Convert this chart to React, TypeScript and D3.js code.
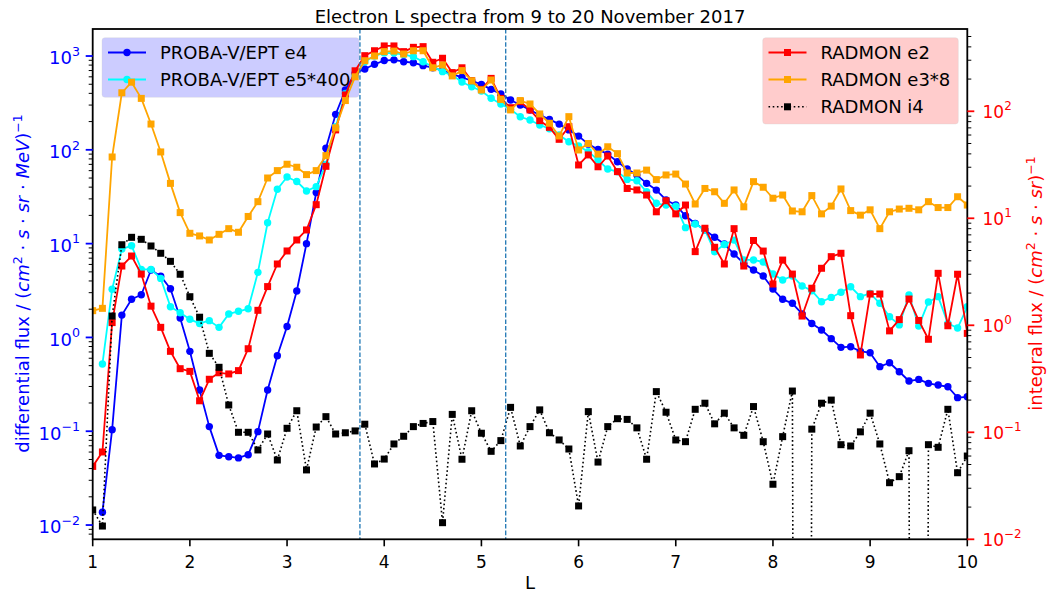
import React from 'react';
import * as d3 from 'd3';

// L-shell grid of the spectra
const L = [
  1.0, 1.1, 1.2, 1.3, 1.4, 1.5, 1.6, 1.7, 1.8, 1.9,
  2.0, 2.1, 2.2, 2.3, 2.4, 2.5, 2.6, 2.7, 2.8, 2.9,
  3.0, 3.1, 3.2, 3.3, 3.4, 3.5, 3.6, 3.7, 3.8, 3.9,
  4.0, 4.1, 4.2, 4.3, 4.4, 4.5, 4.6, 4.7, 4.8, 4.9,
  5.0, 5.1, 5.2, 5.3, 5.4, 5.5, 5.6, 5.7, 5.8, 5.9,
  6.0, 6.1, 6.2, 6.3, 6.4, 6.5, 6.6, 6.7, 6.8, 6.9,
  7.0, 7.1, 7.2, 7.3, 7.4, 7.5, 7.6, 7.7, 7.8, 7.9,
  8.0, 8.1, 8.2, 8.3, 8.4, 8.5, 8.6, 8.7, 8.8, 8.9,
  9.0, 9.1, 9.2, 9.3, 9.4, 9.5, 9.6, 9.7, 9.8, 9.9,
  10.0,
];

// PROBA-V/EPT differential flux (left axis)
const eptE4: (number | null)[] = [
  null, 0.0137, 0.104, 1.73, 2.55, 2.85, 5.23, 4.5, 3.3, 1.61,
  0.711, 0.275, 0.112, 0.0553, 0.0535, 0.052, 0.0562, 0.099, 0.275, 0.638,
  1.31, 3.13, 10, 35, 104, 239, 434, 653, 727, 816,
  895, 910, 869, 849, 789, 750, 697, 642, 593, 545,
  499, 441, 394, 340, 300, 266, 235, 211, 188, 163,
  140, 115, 101, 90, 74.7, 62.4, 53.8, 43.9, 37.2, 29.2,
  25.8, 19.8, 16.4, 14, 11.7, 9.9, 7.75, 6.17, 5.23, 4.52,
  3.28, 2.55, 2.31, 1.78, 1.41, 1.2, 0.97, 0.784, 0.796, 0.711,
  0.687, 0.488, 0.537, 0.431, 0.343, 0.357, 0.324, 0.311, 0.298, 0.228,
  0.233,
];

const eptE5x400: (number | null)[] = [
  null, 0.52, 3.26, 8.75, 9.5, 5.32, 5.32, 4.26, 2.12, 1.83,
  1.56, 1.41, 1.51, 1.28, 1.78, 1.9, 2.02, 4.94, 16.7, 38,
  51.3, 46, 36.4, 40.5, 70, 176, 400, 612, 870, 1000,
  1080, 1075, 1035, 984, 870, 769, 681, 622, 528, 471,
  424, 354, 308, 270, 225, 208, 184, 168, 144, 122,
  110, 95.6, 77.8, 62.4, 58.4, 48.4, 46.8, 35.7, 26.9, 25.8,
  25.1, 14.8, 16.2, 14, 8.2, 9.8, 10.9, 6.7, 6.7, 6.37,
  4.74, 4.1, 4.52, 3.53, 3.15, 2.4, 2.67, 3.03, 3.47, 2.72,
  2.95, 2.31, 1.66, 1.36, 2.83, 1.32, 2.39, 2.72, 1.41, 1.26,
  2.12,
];

// RADMON integral flux (right axis)
const radmonE2: (number | null)[] = [
  0.048, 0.0655, 1.06, 3.58, 4.44, 3.01, 1.51, 0.957, 0.571, 0.393,
  0.371, 0.197, 0.313, 0.36, 0.351, 0.377, 0.604, 1.38, 2.3, 3.74,
  4.95, 6.27, 7.78, 13.4, 30.6, 67, 142, 239, 331, 368,
  408, 408, 361, 396, 402, 287, 313, 230, 255, 193,
  160, 203, 132, 108, 123, 103, 81.7, 70.8, 54.7, 71.8,
  31.5, 39.1, 30.3, 38.2, 27.3, 19, 18.4, 16.5, 11.5, 14.6,
  11, 13.3, 4.88, 8.07, 5.36, 3.74, 8, 3.58, 6.2, 4.94,
  2.43, 4.07, 3.01, 1.22, 2.22, 3.41, 4.38, 4.71, 1.23, 0.528,
  1.96, 1.96, 0.887, 1.13, 1.76, 1.11, 0.74, 3.06, 0.99, 3.0,
  0.84,
];

const radmonE3x8: (number | null)[] = [
  1.37, 1.44, 37.4, 149, 187, 132, 76, 41.7, 21.2, 11.3,
  7.24, 6.84, 6.27, 7.08, 8.0, 7.4, 10.4, 14.3, 23.8, 27.9,
  32, 30, 25.6, 27.9, 38.5, 70, 126, 210, 297, 329,
  361, 365, 343, 368, 368, 255, 271, 214, 240, 193,
  158, 196, 129, 103, 126, 117, 94.4, 77.3, 58.8, 89.1,
  43.5, 50, 39.8, 46.6, 40.2, 26.5, 26.5, 28.2, 23, 25.4,
  25.9, 20.9, 13.6, 19, 17.7, 13.8, 18.4, 12.8, 22, 19.5,
  15.4, 16.5, 11.7, 11.5, 16.3, 11, 13, 18.8, 11.8, 10.7,
  12, 8, 11.5, 12.2, 12.4, 12, 14.3, 12.6, 12.6, 15.9,
  13.3,
];

const radmonI4: (number | null)[] = [
  0.0188, 0.0133, 1.22, 5.66, 6.64, 6.36, 5.51, 4.71, 3.96, 3.0,
  1.85, 1.19, 0.547, 0.405, 0.18, 0.1, 0.1, 0.0684, 0.0964, 0.0551,
  0.109, 0.159, 0.0445, 0.112, 0.14, 0.0964, 0.099, 0.103, 0.119, 0.0506,
  0.0562, 0.0778, 0.0918, 0.113, 0.121, 0.126, 0.0143, 0.147, 0.056, 0.159,
  0.098, 0.0664, 0.0836, 0.171, 0.0745, 0.113, 0.162, 0.099, 0.0848, 0.0698,
  0.0205, 0.156, 0.0527, 0.113, 0.134, 0.132, 0.11, 0.056, 0.24, 0.154,
  0.0848, 0.0817, 0.164, 0.187, 0.12, 0.151, 0.11, 0.0937, 0.174, 0.0817,
  0.0327, 0.0911, 0.243, 0, 0.107, 0.187, 0.2, 0.0766, 0.0745, 0.101,
  0.151, 0.0778, 0.0338, 0.0385, 0.0673, 0, 0.0766, 0.0724, 0.164, 0.0419,
  0.06,
];

// Dashed vertical reference lines
const markerL = [3.75, 5.25];

const xTicks = [1, 2, 3, 4, 5, 6, 7, 8, 9, 10];
const leftExps = [-2, -1, 0, 1, 2, 3];
const rightExps = [-2, -1, 0, 1, 2];

const W = 1050;
const H = 595;
const P = { left: 92.7, right: 967.3, top: 29, bottom: 539.3 };
const FONT = "'DejaVu Sans', sans-serif";

const x = d3.scaleLinear().domain([1, 10]).range([P.left, P.right]);
const yL = d3.scaleLog().domain([Math.pow(10, -2.152), Math.pow(10, 3.288)]).range([P.bottom, P.top]);
const yR = d3.scaleLog().domain([0.01, Math.pow(10, 2.769)]).range([P.bottom, P.top]);

type Pt = { l: number; v: number };

function points(vals: (number | null)[]): (Pt | null)[] {
  return vals.map((v, i) => (v === null ? null : { l: L[i], v: v <= 0 ? 1e-30 : v }));
}

function minorTicks(scale: d3.ScaleLogarithmic<number, number>) {
  const [lo, hi] = scale.domain();
  const out: number[] = [];
  for (let e = -4; e <= 4; e++) {
    for (let k = 2; k <= 9; k++) {
      const v = k * Math.pow(10, e);
      if (v >= lo && v <= hi) out.push(v);
    }
  }
  return out;
}

function Series({ vals, y, color, marker, dotted }: {
  vals: (number | null)[];
  y: d3.ScaleLogarithmic<number, number>;
  color: string;
  marker: 'circle' | 'square';
  dotted?: boolean;
}) {
  const pts = points(vals);
  const line = d3.line<Pt | null>()
    .defined((d) => d !== null)
    .x((d) => x((d as Pt).l))
    .y((d) => y((d as Pt).v));
  const path = line(pts) || '';
  return (
    <g clipPath="url(#plotClip)">
      <path d={path} fill="none" stroke={color} strokeWidth={dotted ? 1.6 : 1.8}
        strokeDasharray={dotted ? '1.6 2.6' : undefined} strokeLinejoin="round" />
      {pts.map((d, i) => {
        if (!d || d.v < 1e-20) return null;
        const cx = x(d.l);
        const cy = y(d.v);
        return marker === 'circle'
          ? <circle key={i} cx={cx} cy={cy} r={3.7} fill={color} />
          : <rect key={i} x={cx - 3.5} y={cy - 3.5} width={7} height={7} fill={color} />;
      })}
    </g>
  );
}

function Pow({ xPos, yPos, exp, anchor, color, size }: {
  xPos: number; yPos: number; exp: number; anchor: 'start' | 'end'; color: string; size: number;
}) {
  const e = exp < 0 ? `\u2212${-exp}` : `${exp}`;
  return (
    <text x={xPos} y={yPos} textAnchor={anchor} fill={color} fontSize={size} fontFamily={FONT}>
      <tspan>10</tspan>
      <tspan dy={-size * 0.47} fontSize={size * 0.7}>{e}</tspan>
    </text>
  );
}

function LegendRow({ x0, yMid, color, marker, dotted, label }: {
  x0: number; yMid: number; color: string; marker: 'circle' | 'square'; dotted?: boolean; label: string;
}) {
  const x1 = x0 + 38;
  const xm = (x0 + x1) / 2;
  return (
    <g>
      <line x1={x0} x2={x1} y1={yMid} y2={yMid} stroke={color} strokeWidth={dotted ? 1.6 : 1.8}
        strokeDasharray={dotted ? '1.6 2.6' : undefined} />
      {marker === 'circle'
        ? <circle cx={xm} cy={yMid} r={3.7} fill={color} />
        : <rect x={xm - 3.5} y={yMid - 3.5} width={7} height={7} fill={color} />}
      <text x={x0 + 52} y={yMid + 6} fontSize={18} fontFamily={FONT} fill="#000">{label}</text>
    </g>
  );
}

export default function App() {
  const supDy = 7.5;
  return (
    <svg width={W} height={H} style={{ position: 'absolute', left: 0, top: 0, background: '#fff' }}
      fontFamily={FONT}>
      <defs>
        <clipPath id="plotClip">
          <rect x={P.left} y={P.top} width={P.right - P.left} height={P.bottom - P.top} />
        </clipPath>
      </defs>
      <rect x={0} y={0} width={W} height={H} fill="#fff" />

      {/* left-axis series */}
      <Series vals={eptE4} y={yL} color="#0000ff" marker="circle" />
      <Series vals={eptE5x400} y={yL} color="#00ffff" marker="circle" />

      {/* left legend */}
      <rect x={102} y={37.7} width={257} height={59.6} rx={3} fill="#0000ff" fillOpacity={0.2}
        stroke="#cccccc" strokeOpacity={0.3} />
      <LegendRow x0={108} yMid={52.5} color="#0000ff" marker="circle" label="PROBA-V/EPT e4" />
      <LegendRow x0={108} yMid={79.5} color="#00ffff" marker="circle" label="PROBA-V/EPT e5*400" />

      {/* right-axis series */}
      <Series vals={radmonE2} y={yR} color="#ff0000" marker="square" />
      <Series vals={radmonE3x8} y={yR} color="#ffa500" marker="square" />
      <Series vals={radmonI4} y={yR} color="#000000" marker="square" dotted />

      {/* dashed reference lines */}
      {markerL.map((l) => (
        <line key={l} x1={x(l)} x2={x(l)} y1={P.top} y2={P.bottom} stroke="#1f77b4"
          strokeWidth={1.3} strokeDasharray="4.6 2" />
      ))}

      {/* right legend */}
      <rect x={762.7} y={37.7} width={195.6} height={86.3} rx={3} fill="#ff0000" fillOpacity={0.2}
        stroke="#cccccc" strokeOpacity={0.3} />
      <LegendRow x0={768.5} yMid={52.5} color="#ff0000" marker="square" label="RADMON e2" />
      <LegendRow x0={768.5} yMid={79.5} color="#ffa500" marker="square" label="RADMON e3*8" />
      <LegendRow x0={768.5} yMid={106.8} color="#000000" marker="square" dotted label="RADMON i4" />

      {/* frame */}
      <rect x={P.left} y={P.top} width={P.right - P.left} height={P.bottom - P.top} fill="none"
        stroke="#000" strokeWidth={1.8} />

      {/* bottom axis */}
      {xTicks.map((t) => (
        <g key={t}>
          <line x1={x(t)} x2={x(t)} y1={P.bottom} y2={P.bottom + 7} stroke="#000" strokeWidth={1.6} />
          <text x={x(t)} y={567.5} textAnchor="middle" fontSize={17} fill="#000">{t}</text>
        </g>
      ))}

      {/* left axis */}
      {minorTicks(yL).map((v) => (
        <line key={`lm${v}`} x1={P.left - 4} x2={P.left} y1={yL(v)} y2={yL(v)} stroke="#000" strokeWidth={1} />
      ))}
      {leftExps.map((e) => {
        const yy = yL(Math.pow(10, e));
        return (
          <g key={`l${e}`}>
            <line x1={P.left - 7} x2={P.left} y1={yy} y2={yy} stroke="#0000ff" strokeWidth={1.8} />
            <Pow xPos={80} yPos={yy + 8.3} exp={e} anchor="end" color="#0000ff" size={18} />
          </g>
        );
      })}

      {/* right axis */}
      {minorTicks(yR).map((v) => (
        <line key={`rm${v}`} x1={P.right} x2={P.right + 4} y1={yR(v)} y2={yR(v)} stroke="#000" strokeWidth={1} />
      ))}
      {rightExps.map((e) => {
        const yy = yR(Math.pow(10, e));
        return (
          <g key={`r${e}`}>
            <line x1={P.right} x2={P.right + 7} y1={yy} y2={yy} stroke="#ff0000" strokeWidth={1.8} />
            <Pow xPos={982.5} yPos={yy + 7} exp={e} anchor="start" color="#ff0000" size={17} />
          </g>
        );
      })}

      {/* titles and labels */}
      <text x={530} y={22.5} textAnchor="middle" fontSize={18} fill="#000">
        Electron L spectra from 9 to 20 November 2017
      </text>
      <text x={530} y={588.5} textAnchor="middle" fontSize={18} fill="#000">L</text>

      <text transform="translate(29,283.5) rotate(-90)" textAnchor="middle" fontSize={18} fill="#0000ff">
        <tspan>{'differential flux / ('}</tspan>
        <tspan fontStyle="italic">cm</tspan>
        <tspan dy={-supDy} fontSize={12.5}>2</tspan>
        <tspan dy={supDy}>{' \u00b7 '}</tspan>
        <tspan fontStyle="italic">s</tspan>
        <tspan>{' \u00b7 '}</tspan>
        <tspan fontStyle="italic">sr</tspan>
        <tspan>{' \u00b7 '}</tspan>
        <tspan fontStyle="italic">MeV</tspan>
        <tspan>)</tspan>
        <tspan dy={-supDy} fontSize={12.5}>{'\u22121'}</tspan>
      </text>

      <text transform="translate(1042,283.5) rotate(-90)" textAnchor="middle" fontSize={18} fill="#ff0000">
        <tspan>{'integral flux / ('}</tspan>
        <tspan fontStyle="italic">cm</tspan>
        <tspan dy={-supDy} fontSize={12.5}>2</tspan>
        <tspan dy={supDy}>{' \u00b7 '}</tspan>
        <tspan fontStyle="italic">s</tspan>
        <tspan>{' \u00b7 '}</tspan>
        <tspan fontStyle="italic">sr</tspan>
        <tspan>)</tspan>
        <tspan dy={-supDy} fontSize={12.5}>{'\u22121'}</tspan>
      </text>
    </svg>
  );
}
